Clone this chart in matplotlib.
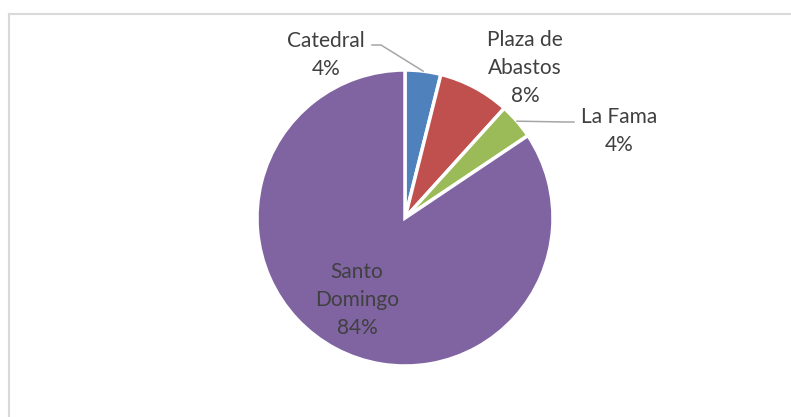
import numpy as np
import matplotlib.pyplot as plt
from matplotlib.lines import Line2D

# data (percent shares)
labels = ['Catedral', 'Plaza de\nAbastos', 'La Fama', 'Santo\nDomingo']
values = [3.9, 7.8, 3.9, 84.4]
colors = ['#4F81BD', '#C0504D', '#9BBB59', '#8064A2']

W, H = 791, 417
fig = plt.figure(figsize=(W / 100, H / 100), dpi=100)
ax = fig.add_axes([0, 0, 1, 1])

cx, cy, r = 405, H - 218, 148
wedges, _ = ax.pie(values, colors=colors, startangle=90, counterclock=False,
                   center=(cx, cy), radius=r, frame=True,
                   wedgeprops=dict(edgecolor='white', linewidth=2.5))
ax.set_xlim(0, W)
ax.set_ylim(0, H)
ax.set_aspect('equal')
ax.axis('off')

total = sum(values)
pcts = ['{:.0f}%'.format(v / total * 100) for v in values]

# label positions (pixels, from top)
lab_pos = [(326, 55), (525, 68), (619, 131), (357, 300)]

txt = dict(fontsize=15, color='#404040', ha='center', va='center',
           family=['Lato', 'DejaVu Sans'], linespacing=1.5)
for i, (lab, p) in enumerate(zip(labels, pcts)):
    x, y = lab_pos[i]
    ax.text(x, H - y, lab + '\n' + p, **txt)

# leader lines
w = wedges[0]
mid = np.deg2rad((w.theta1 + w.theta2) / 2)
ax.plot([372, 381, cx + r * np.cos(mid)], [H - 45, H - 45, cy + r * np.sin(mid)],
        color='#A6A6A6', lw=1.1)
w = wedges[2]
mid = np.deg2rad((w.theta1 + w.theta2) / 2)
ax.plot([cx + r * np.cos(mid), 565, 574], [cy + r * np.sin(mid), H - 122, H - 122],
        color='#A6A6A6', lw=1.1)

# chart border (top and left visible)
fig.add_artist(Line2D([8.5 / W, 1], [1 - 13.5 / H, 1 - 13.5 / H], color='#D9D9D9', lw=1.5))
fig.add_artist(Line2D([8.5 / W, 8.5 / W], [0, 1 - 13.5 / H], color='#D9D9D9', lw=1.5))

fig.savefig('out.png', dpi=100)
